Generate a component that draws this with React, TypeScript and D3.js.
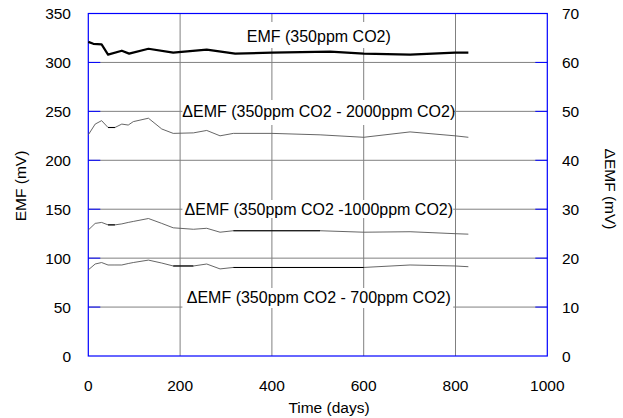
import React from "react";
import * as d3 from "d3";

const emfDays = [0, 11, 29, 43, 73, 89, 131, 185, 258, 320, 400, 527, 600, 701, 799, 828];
const emfValues = [321, 319, 318.5, 308, 312, 309, 314, 310, 313, 309, 310, 311, 309, 308, 310, 310];

const deltaDays = [0, 15, 29, 43, 58, 73, 87, 98, 131, 160, 185, 229, 258, 287, 316, 400, 505, 600, 701, 799, 828];
const delta2000 = [45.2, 47.4, 48.1, 46.7, 46.7, 47.4, 47.2, 47.9, 48.6, 46.4, 45.5, 45.6, 46.1, 45.0, 45.5, 45.5, 45.2, 44.7, 45.8, 45.0, 44.7];
const delta1000 = [25.75, 27.1, 27.3, 26.8, 26.8, 27.0, 27.3, 27.5, 28.1, 27.1, 26.2, 25.9, 26.1, 25.3, 25.6, 25.6, 25.6, 25.3, 25.4, 25.0, 24.9];
const delta700 = [17.6, 18.8, 19.1, 18.6, 18.6, 18.6, 18.9, 19.1, 19.6, 19.0, 18.4, 18.4, 18.8, 17.8, 18.1, 18.1, 18.1, 18.1, 18.6, 18.4, 18.25];

const black2000: [number, number][] = [[43, 58]];
const black1000: [number, number][] = [[43, 58], [316, 505]];
const black700: [number, number][] = [[185, 229], [316, 600]];

const xTicks = [0, 200, 400, 600, 800, 1000];
const yLeftTicks = [0, 50, 100, 150, 200, 250, 300, 350];
const yRightTicks = [0, 10, 20, 30, 40, 50, 60, 70];

const labels = [
  { text: "EMF (350ppm CO2)", day: 500, value: 326 },
  { text: "\u0394EMF (350ppm CO2 - 2000ppm CO2)", day: 500, value: 250 },
  { text: "\u0394EMF (350ppm CO2 -1000ppm CO2)", day: 500, value: 150 },
  { text: "\u0394EMF (350ppm CO2 - 700ppm CO2)", day: 500, value: 60 },
];

export default function App() {
  const W = 623, H = 418;
  const left = 88.3, right = 547.3, top = 13.5, bottom = 356;
  const x = d3.scaleLinear().domain([0, 1000]).range([left, right]);
  const yL = d3.scaleLinear().domain([0, 350]).range([bottom, top]);
  const yR = d3.scaleLinear().domain([0, 70]).range([bottom, top]);
  const font = "Arial, 'Liberation Sans', sans-serif";
  const blue = "#0000ff";
  const grid = "#808080";

  const lineL = d3.line<[number, number]>().x(d => x(d[0])).y(d => yL(d[1]));
  const lineR = d3.line<[number, number]>().x(d => x(d[0])).y(d => yR(d[1]));

  const emfPts = emfDays.map((d, i) => [d, emfValues[i]] as [number, number]);
  const deltas = [
    { vals: delta2000, black: black2000 },
    { vals: delta1000, black: black1000 },
    { vals: delta700, black: black700 },
  ];

  return (
    <svg width={W} height={H} style={{ position: "absolute", left: 0, top: 0, background: "#fff" }} fontFamily={font}>
      {yLeftTicks.filter(t => t > 0 && t < 350).map(t => (
        <line key={"h" + t} x1={left} x2={right} y1={yL(t)} y2={yL(t)} stroke={grid} strokeWidth={1} />
      ))}
      {xTicks.filter(t => t > 0 && t < 1000).map(t => (
        <line key={"v" + t} x1={x(t)} x2={x(t)} y1={top} y2={bottom} stroke={grid} strokeWidth={1} />
      ))}
      <rect x={x(205)} y={22} width={x(795) - x(205)} height={26} fill="#fff" />
      <rect x={x(205)} y={100} width={x(795) - x(205)} height={25} fill="#fff" />
      <rect x={x(205)} y={200} width={x(795) - x(205)} height={18} fill="#fff" />
      <rect x={x(205)} y={288} width={x(795) - x(205)} height={20} fill="#fff" />
      {yLeftTicks.filter(t => t > 0 && t < 350).map(t => (
        <line key={"tl" + t} x1={left} x2={left + 12} y1={yL(t)} y2={yL(t)} stroke={blue} strokeWidth={1} />
      ))}
      {yRightTicks.filter(t => t > 0 && t < 70).map(t => (
        <line key={"tr" + t} x1={right - 12} x2={right} y1={yR(t)} y2={yR(t)} stroke={blue} strokeWidth={1} />
      ))}
      <rect x={left} y={top} width={right - left} height={bottom - top} fill="none" stroke={blue} strokeWidth={1.2} />
      {deltas.map((s, i) => {
        const pts = deltaDays.map((d, j) => [d, s.vals[j]] as [number, number]);
        return (
          <g key={"d" + i}>
            <path d={lineR(pts) || ""} fill="none" stroke="#555" strokeWidth={0.9} />
            {s.black.map((r, k) => {
              const seg = pts.filter(p => p[0] >= r[0] && p[0] <= r[1]);
              return <path key={k} d={lineR(seg) || ""} fill="none" stroke="#000" strokeWidth={1.1} />;
            })}
          </g>
        );
      })}
      <path d={lineL(emfPts) || ""} fill="none" stroke="#000" strokeWidth={2.2} strokeLinejoin="round" />
      {labels.map((l, i) => (
        <text key={"lab" + i} x={x(l.day) + 1} y={yL(l.value)} textAnchor="middle" dominantBaseline="central" fontSize={16} fill="#000">
          {l.text}
        </text>
      ))}
      {yLeftTicks.map(t => (
        <text key={"yl" + t} x={71} y={yL(t)} textAnchor="end" dominantBaseline="central" fontSize={15.5} fill="#000">{t}</text>
      ))}
      {yRightTicks.map(t => (
        <text key={"yr" + t} x={562} y={yR(t)} textAnchor="start" dominantBaseline="central" fontSize={15.5} fill="#000">{t}</text>
      ))}
      {xTicks.map(t => (
        <text key={"xt" + t} x={x(t)} y={385} textAnchor="middle" dominantBaseline="central" fontSize={15.5} fill="#000">{t}</text>
      ))}
      <text x={329} y={407} textAnchor="middle" dominantBaseline="central" fontSize={15.5} fill="#000">Time (days)</text>
      <text transform={`translate(20,186) rotate(-90)`} textAnchor="middle" dominantBaseline="central" fontSize={15.5} fill="#000">EMF (mV)</text>
      <text transform={`translate(610,189) rotate(90)`} textAnchor="middle" dominantBaseline="central" fontSize={15.5} fill="#000">{"\u0394EMF (mV)"}</text>
    </svg>
  );
}
